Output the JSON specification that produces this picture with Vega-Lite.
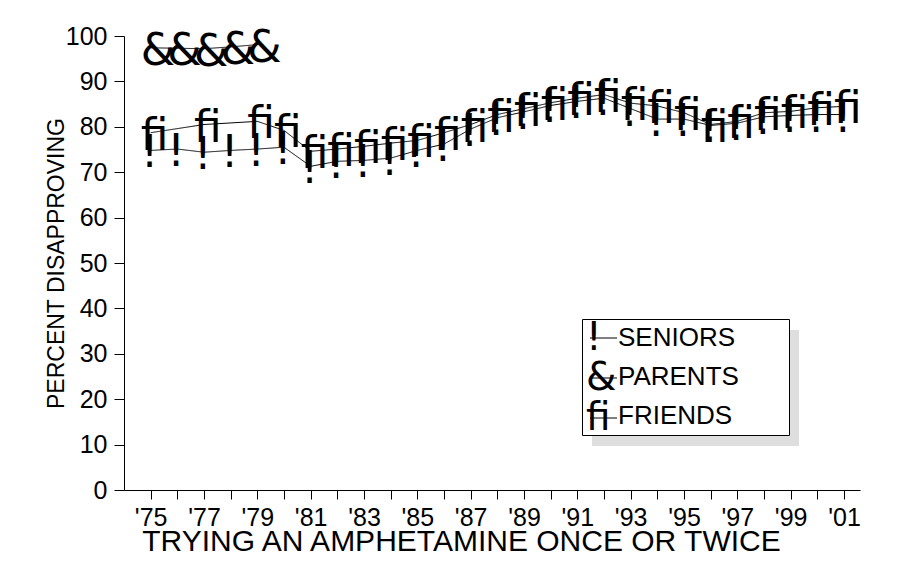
{
  "$schema": "https://vega.github.io/schema/vega-lite/v6.json",
  "width": 736,
  "height": 454,
  "autosize": "none",
  "padding": {"left": 124, "top": 36, "right": 40, "bottom": 92},
  "background": "white",
  "config": {
    "view": {"stroke": null},
    "font": "Liberation Sans"
  },
  "data": {
    "values": [
      {"year": 1975, "series": "SENIORS", "value": 74.8},
      {"year": 1976, "series": "SENIORS", "value": 75.1},
      {"year": 1977, "series": "SENIORS", "value": 74.4},
      {"year": 1978, "series": "SENIORS", "value": 74.8},
      {"year": 1979, "series": "SENIORS", "value": 75.1},
      {"year": 1980, "series": "SENIORS", "value": 75.5},
      {"year": 1981, "series": "SENIORS", "value": 71.3},
      {"year": 1982, "series": "SENIORS", "value": 72.4},
      {"year": 1983, "series": "SENIORS", "value": 72.6},
      {"year": 1984, "series": "SENIORS", "value": 73.1},
      {"year": 1985, "series": "SENIORS", "value": 74.8},
      {"year": 1986, "series": "SENIORS", "value": 76.2},
      {"year": 1987, "series": "SENIORS", "value": 79.5},
      {"year": 1988, "series": "SENIORS", "value": 82.0},
      {"year": 1989, "series": "SENIORS", "value": 83.3},
      {"year": 1990, "series": "SENIORS", "value": 84.7},
      {"year": 1991, "series": "SENIORS", "value": 85.6},
      {"year": 1992, "series": "SENIORS", "value": 86.3},
      {"year": 1993, "series": "SENIORS", "value": 84.0},
      {"year": 1994, "series": "SENIORS", "value": 81.7},
      {"year": 1995, "series": "SENIORS", "value": 81.7},
      {"year": 1996, "series": "SENIORS", "value": 80.3},
      {"year": 1997, "series": "SENIORS", "value": 80.8},
      {"year": 1998, "series": "SENIORS", "value": 82.2},
      {"year": 1999, "series": "SENIORS", "value": 82.5},
      {"year": 2000, "series": "SENIORS", "value": 82.7},
      {"year": 2001, "series": "SENIORS", "value": 82.7},
      {"year": 1975, "series": "PARENTS", "value": 97.4},
      {"year": 1976, "series": "PARENTS", "value": 97.3},
      {"year": 1977, "series": "PARENTS", "value": 97.2},
      {"year": 1978, "series": "PARENTS", "value": 97.6},
      {"year": 1979, "series": "PARENTS", "value": 98.1},
      {"year": 1975, "series": "FRIENDS", "value": 78.7},
      {"year": 1977, "series": "FRIENDS", "value": 80.5},
      {"year": 1979, "series": "FRIENDS", "value": 81.2},
      {"year": 1980, "series": "FRIENDS", "value": 79.2},
      {"year": 1981, "series": "FRIENDS", "value": 74.6},
      {"year": 1982, "series": "FRIENDS", "value": 75.1},
      {"year": 1983, "series": "FRIENDS", "value": 75.7},
      {"year": 1984, "series": "FRIENDS", "value": 76.4},
      {"year": 1985, "series": "FRIENDS", "value": 77.0},
      {"year": 1986, "series": "FRIENDS", "value": 78.7},
      {"year": 1987, "series": "FRIENDS", "value": 80.5},
      {"year": 1988, "series": "FRIENDS", "value": 82.7},
      {"year": 1989, "series": "FRIENDS", "value": 84.0},
      {"year": 1990, "series": "FRIENDS", "value": 85.3},
      {"year": 1991, "series": "FRIENDS", "value": 86.3},
      {"year": 1992, "series": "FRIENDS", "value": 87.1},
      {"year": 1993, "series": "FRIENDS", "value": 85.2},
      {"year": 1994, "series": "FRIENDS", "value": 84.6},
      {"year": 1995, "series": "FRIENDS", "value": 83.1},
      {"year": 1996, "series": "FRIENDS", "value": 80.5},
      {"year": 1997, "series": "FRIENDS", "value": 81.2},
      {"year": 1998, "series": "FRIENDS", "value": 83.1},
      {"year": 1999, "series": "FRIENDS", "value": 83.4},
      {"year": 2000, "series": "FRIENDS", "value": 84.2},
      {"year": 2001, "series": "FRIENDS", "value": 84.5}
    ]
  },
  "transform": [
    {"calculate": "datum.series == 'SENIORS' ? '!' : (datum.series == 'PARENTS' ? '&' : 'fi')", "as": "glyph"}
  ],
  "encoding": {
    "x": {
      "field": "year",
      "type": "quantitative",
      "scale": {"domain": [1974, 2001.6], "nice": false, "zero": false},
      "axis": {
        "values": [1975,1976,1977,1978,1979,1980,1981,1982,1983,1984,1985,1986,1987,1988,1989,1990,1991,1992,1993,1994,1995,1996,1997,1998,1999,2000,2001],
        "format": "d",
        "labelExpr": "datum.value % 2 == 1 ? \"'\" + slice(datum.label, 2) : ''",
        "labelOverlap": false,
        "labelFlush": false,
        "labelFont": "Liberation Sans",
        "labelFontSize": 25,
        "labelColor": "black",
        "labelPadding": 6,
        "ticks": true,
        "tickSize": 9,
        "tickWidth": 1,
        "tickColor": "black",
        "domainColor": "black",
        "domainWidth": 1,
        "grid": false,
        "encode": {"ticks": {"update": {"y2": {"value": -9}}}},
        "title": "TRYING AN AMPHETAMINE ONCE OR TWICE",
        "titleFont": "Liberation Sans",
        "titleFontSize": 30,
        "titleFontWeight": "normal",
        "titleColor": "black",
        "titlePadding": -4,
        "titleX": 337
      }
    },
    "y": {
      "field": "value",
      "type": "quantitative",
      "scale": {"domain": [0, 100], "nice": false},
      "axis": {
        "values": [0,10,20,30,40,50,60,70,80,90,100],
        "labelFont": "Liberation Sans",
        "labelFontSize": 25,
        "labelColor": "black",
        "labelPadding": 7,
        "ticks": true,
        "tickSize": 10,
        "tickWidth": 1,
        "tickColor": "black",
        "domainColor": "black",
        "domainWidth": 1,
        "grid": false,
        "encode": {"ticks": {"update": {"x2": {"value": 10}}}},
        "title": "PERCENT DISAPPROVING",
        "titleFont": "Liberation Sans",
        "titleFontSize": 23,
        "titleFontWeight": "normal",
        "titleColor": "black",
        "titlePadding": -3
      }
    }
  },
  "layer": [
    {
      "mark": {"type": "text", "font": "DejaVu Sans", "fontSize": 44, "align": "left", "baseline": "alphabetic", "dx": -10, "dy": 17, "color": "black"},
      "encoding": {"text": {"field": "glyph"}}
    },
    {
      "mark": {"type": "line", "strokeWidth": 1},
      "encoding": {
        "detail": {"field": "series"},
        "color": {
          "field": "glyph",
          "type": "nominal",
          "scale": {"domain": ["!", "&", "fi"], "range": ["black", "black", "black"]},
          "legend": {
            "orient": "none", "direction": "vertical", "legendX": 460, "legendY": 282.5, "zindex": 3,
            "title": null, "padding": 0, "symbolType": "stroke", "symbolSize": 729,
            "symbolStrokeWidth": 1, "symbolStrokeColor": "black",
            "labelFont": "DejaVu Sans", "labelFontSize": 39, "labelColor": "black",
            "labelOffset": -37, "labelLimit": 300, "rowPadding": 0
          }
        },
        "strokeDash": {
          "field": "series",
          "type": "nominal",
          "scale": {"domain": ["SENIORS", "PARENTS", "FRIENDS"], "range": [[1, 0], [1, 0], [1, 0]]},
          "legend": {
            "orient": "none", "direction": "vertical", "legendX": 458, "legendY": 283, "zindex": 2,
            "title": null, "padding": 6, "fillColor": "white", "strokeColor": "black",
            "symbolType": "stroke", "symbolSize": 400, "symbolStrokeWidth": 0, "symbolOpacity": 0,
            "labelFont": "Liberation Sans", "labelFontSize": 26, "labelColor": "black",
            "labelOffset": 4, "labelLimit": 400, "rowPadding": 13,
            "labelExpr": "datum.label + '\u00a0\u00a0\u00a0\u00a0\u00a0\u00a0\u200b'"
          }
        },
        "opacity": {
          "field": "series",
          "type": "ordinal",
          "scale": {"type": "point", "domain": ["FRIENDS", "PARENTS", "SENIORS"], "range": [1, 1]},
          "legend": {
            "orient": "none", "direction": "vertical", "legendX": 468, "legendY": 294, "zindex": 1,
            "title": null, "padding": 6, "fillColor": "#dedede", "strokeColor": null,
            "symbolType": "stroke", "symbolSize": 400, "symbolStrokeWidth": 0, "symbolOpacity": 0,
            "labelFont": "Liberation Sans", "labelFontSize": 26, "labelOpacity": 0,
            "labelOffset": 4, "labelLimit": 400, "rowPadding": 13,
            "labelExpr": "datum.label + '\u00a0\u00a0\u00a0\u00a0\u00a0\u00a0\u200b'"
          }
        }
      }
    }
  ]
}
